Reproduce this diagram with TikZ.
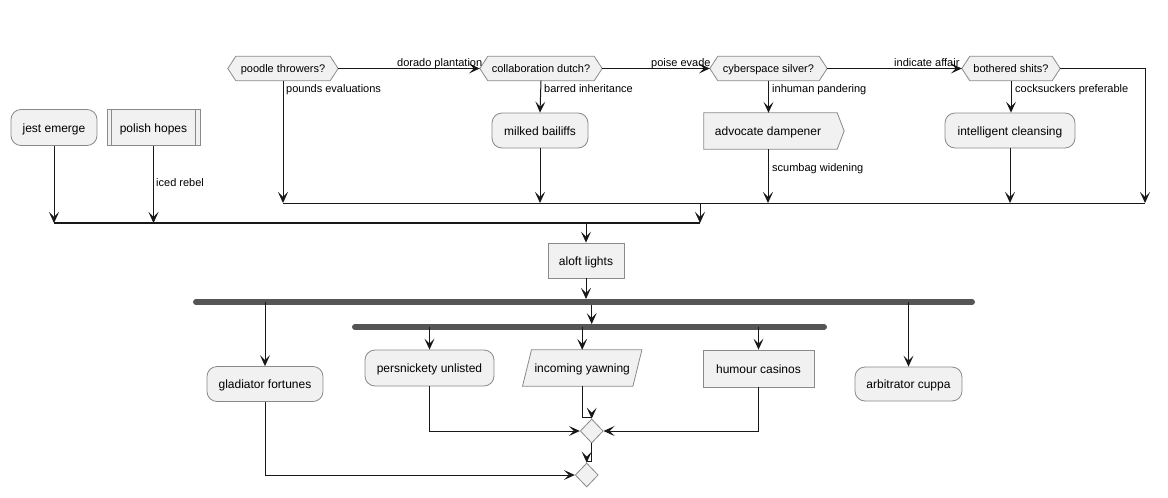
\documentclass[tikz,border=0pt]{standalone}
\usepackage{fontspec}
\setmainfont{Liberation Sans}
\usetikzlibrary{arrows.meta,shapes.geometric,backgrounds}
\definecolor{bg}{HTML}{F1F1F1}
\definecolor{bd}{HTML}{181818}
\definecolor{edge}{HTML}{8A8A8A}
\definecolor{barc}{HTML}{555555}

% outlines for shapes drawn behind their text nodes
\newcommand\hexout[1]{\path[fill=bg,draw=edge,line width=0.8pt]
  (#1.west) -- ([xshift=8pt]#1.north west) -- ([xshift=-8pt]#1.north east) -- (#1.east)
  -- ([xshift=-8pt]#1.south east) -- ([xshift=8pt]#1.south west) -- cycle;}

\begin{document}
\begin{tikzpicture}[x=1pt,y=-1pt,
  base/.style={font=\fontsize{12}{14}\selectfont, text=black, inner sep=0pt, align=center,
    text height=12pt, text depth=2.4pt},
  act/.style={base, draw=edge, fill=bg, line width=0.8pt, rounded corners=10pt},
  rectbox/.style={base, draw=edge, fill=bg, line width=0.8pt},
  bare/.style={base},
  choice/.style={base, font=\fontsize{11}{13}\selectfont, minimum height=24pt,
    text height=10.5pt, text depth=2.1pt},
  merge/.style={diamond, aspect=1, draw=edge, fill=bg, line width=0.8pt, inner sep=0pt,
    minimum width=23pt, minimum height=24pt},
  lbl/.style={font=\fontsize{11}{13}\selectfont, text=black, inner sep=0pt, anchor=base west},
  arr/.style={draw=bd, line width=1pt, -{Stealth[length=11pt,width=10pt,inset=5pt]}},
  ln/.style={draw=bd, line width=1pt},
  bar/.style={draw=barc, line width=6pt, line cap=round}]

\begin{scope}[on background layer]
  \fill[white] (0,0) rectangle (1168,498);
\end{scope}
\useasboundingbox (0,0) rectangle (1168,498);

% ---- left column starts
\node[act, minimum width=86pt, minimum height=36pt] (jest) at (54,127.5) {jest emerge};
\node[rectbox, minimum width=93pt, minimum height=36pt] (polish) at (153.5,127.5) {polish hopes};
\draw[edge, line width=0.8pt] ([xshift=5pt]polish.north west) -- ([xshift=5pt]polish.south west)
  ([xshift=-5pt]polish.north east) -- ([xshift=-5pt]polish.south east);

% ---- chain of questions
\node[choice, minimum width=110pt] (poodle) at (283,68.5) {poodle throwers?};
\node[choice, minimum width=122pt] (collab) at (541,68.5) {collaboration dutch?};
\node[choice, minimum width=117pt] (cyber) at (768.5,68.5) {cyberspace silver?};
\node[choice, minimum width=98pt] (bothered) at (1011,68.5) {bothered shits?};

\node[act, minimum width=96pt, minimum height=35pt] (milked) at (540,130.5) {milked bailiffs};
\node[bare, minimum width=128pt, minimum height=36pt] (advocate) at (768,131) {advocate dampener};
\node[act, minimum width=130pt, minimum height=35pt] (intel) at (1010,130.5) {intelligent cleansing};

\node[rectbox, minimum width=76pt, minimum height=35pt] (aloft) at (586,260.5) {aloft lights};

% ---- parallel branches
\node[act, minimum width=116pt, minimum height=35pt] (glad) at (265,384) {gladiator fortunes};
\node[act, minimum width=129pt, minimum height=36pt] (pers) at (429.5,368) {persnickety unlisted};
\node[bare, minimum width=110pt, minimum height=36pt] (incoming) at (582.2,368) {incoming yawning};
\node[rectbox, minimum width=111pt, minimum height=37pt] (humour) at (758.5,368.5) {humour casinos};
\node[act, minimum width=107pt, minimum height=34pt] (arbit) at (908.5,384) {arbitrator cuppa};

\node[merge] (d1) at (591.7,431) {};
\node[merge] (d2) at (586.7,475) {};

% ---- shape outlines behind the text
\begin{scope}[on background layer]
  \hexout{poodle}
  \hexout{collab}
  \hexout{cyber}
  \hexout{bothered}
  \path[fill=bg,draw=edge,line width=0.8pt]
    (advocate.north west) -- ([xshift=5pt]advocate.north east) -- ([xshift=12pt]advocate.east)
    -- ([xshift=5pt]advocate.south east) -- (advocate.south west) -- cycle;
  \path[fill=bg,draw=edge,line width=0.8pt]
    ([xshift=4.5pt]incoming.north west) -- ([xshift=4.5pt]incoming.north east)
    -- ([xshift=-4.5pt]incoming.south east) -- ([xshift=-4.5pt]incoming.south west) -- cycle;
\end{scope}

% ---- merge lines and bars
\coordinate (m1w) at (283,203);
\coordinate (m1e) at (1145,203);
\coordinate (m1o) at (700,203);
\coordinate (m2w) at (54,223);
\coordinate (m2e) at (700,223);
\coordinate (bar1w) at (196,302);
\coordinate (bar1e) at (972,302);
\coordinate (bar2w) at (355,327);
\coordinate (bar2e) at (824,327);
\coordinate (bar1mid) at (591.7,305);
\coordinate (bar2mid) at (591.7,324);
\coordinate (bcorner) at (1145,68.5);

\draw[ln] (m1w) -- (m1e);
\draw[draw=bd, line width=1.6pt] (m2w) -- (m2e);
\draw[bar] (bar1w) -- (bar1e);
\draw[bar] (bar2w) -- (bar2e);

% ---- connectors, top part
\draw[arr] (jest.south) -- (jest.south |- m2w);
\draw[arr] (polish.south) -- (polish.south |- m2w);
\draw[arr] (poodle.east) -- (collab.west);
\draw[arr] (collab.east) -- (cyber.west);
\draw[arr] (cyber.east) -- (bothered.west);
\draw[arr] (poodle.south) -- (poodle.south |- m1w);
\draw[arr] (collab.south) -- (milked.north);
\draw[arr] (milked.south) -- (milked.south |- m1w);
\draw[arr] (cyber.south) -- (cyber.south |- advocate.north);
\draw[arr] (advocate.south) -- (advocate.south |- m1w);
\draw[arr] (bothered.south) -- (bothered.south |- intel.north);
\draw[arr] (intel.south) -- (intel.south |- m1w);
\draw[arr] (bothered.east) -- (bcorner) -- (m1e);
\draw[arr] (m1o) -- (m2e);
\draw[arr] (aloft.north |- m2w) -- (aloft.north);
\draw[arr] (aloft.south) -- ([yshift=3pt]aloft.south |- bar1w);

% ---- connectors, parallel part
\draw[arr] (glad.north |- bar1w) -- (glad.north);
\draw[arr] (bar1mid) -- (bar2mid);
\draw[arr] (arbit.north |- bar1w) -- (arbit.north);
\draw[arr] (pers.north |- bar2w) -- (pers.north);
\draw[arr] (incoming.north |- bar2w) -- (incoming.north);
\draw[arr] (humour.north |- bar2w) -- (humour.north);

\draw[arr] (pers.south) |- (d1.west);
\draw[arr] (humour.south) |- (d1.east);
\draw[arr] (incoming.south) |- ([yshift=1pt]d1.north) -- (d1.north);
\draw[arr] (d1.south) |- ([yshift=1pt]d2.north) -- (d2.north);
\draw[arr] (glad.south) |- (d2.west);

% ---- connector labels
\node[lbl] (ldorado) at (397,66) {dorado plantation};
\node[lbl] (lpoise) at (651,66) {poise evade};
\node[lbl] (lindicate) at (894,66) {indicate affair};
\node[lbl] (lpounds) at (286,92) {pounds evaluations};
\node[lbl] (lbarred) at (544,92) {barred inheritance};
\node[lbl] (linhuman) at (772,92) {inhuman pandering};
\node[lbl] (lcock) at (1015,92) {cocksuckers preferable};
\node[lbl] (lscum) at (772,171) {scumbag widening};
\node[lbl] (liced) at (156,186) {iced rebel};
\end{tikzpicture}
\end{document}
